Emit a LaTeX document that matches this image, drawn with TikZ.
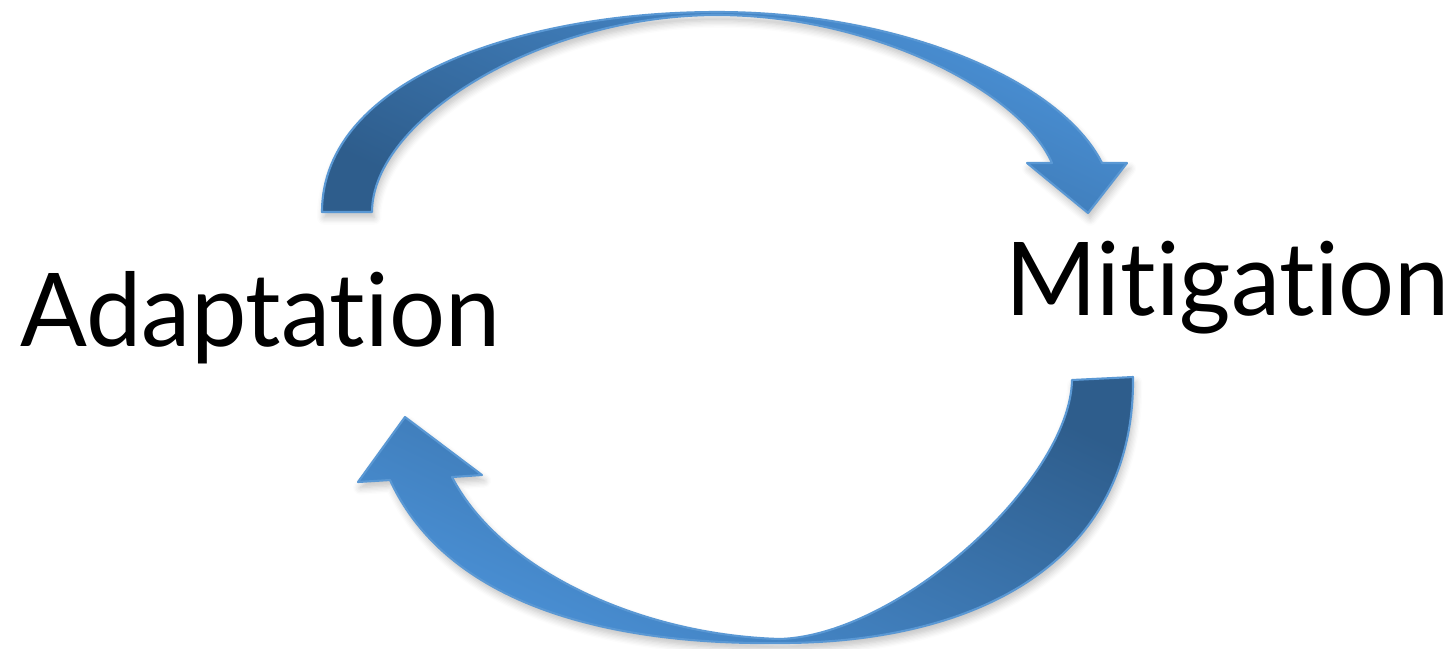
\documentclass[tikz,border=0pt]{standalone}
\usepackage{fontspec}
\setmainfont{Lato}[Ligatures={NoCommon}, FakeStretch=0.97]
\usepackage{tikz}
\usetikzlibrary{shadows.blur}
\definecolor{arrowdark}{HTML}{2E5D8C}
\definecolor{arrowlight}{HTML}{4B92D8}
\definecolor{arrowedge}{HTML}{5A98D4}

\begin{document}
\begin{tikzpicture}[
    x=0.1mm, y=-0.1mm,
    word/.style={font=\fontsize{29}{29}\selectfont, inner sep=0pt, anchor=base west},
    bigarrow/.style={draw=arrowedge, line width=0.6pt, line join=round,
        blur shadow={shadow xshift=0.6pt, shadow yshift=-1.6pt, shadow opacity=25, shadow blur steps=6}},
    toparrow/.style={bigarrow, top color=arrowlight, bottom color=arrowdark, shading angle=-25},
    botarrow/.style={bigarrow, top color=arrowlight, bottom color=arrowdark, shading angle=155}
]
\useasboundingbox (0,0) rectangle (1451,648);

\node (adapt) [word] at (20,346) {Adaptation};
\node (mitig) [word] at (1005,315) {Mitigation};

% Arrows
\shade[toparrow] (322,212) .. controls (322,80) and (520,12) .. (717,12)
    .. controls (900,12) and (1060,80) .. (1102,163)
    -- (1127,163) -- (1088,213) -- (1027,163) -- (1052,163)
    .. controls (1020,90) and (870,15) .. (717,15)
    .. controls (540,15) and (372,120) .. (372,212) -- cycle;
\shade[botarrow] (1072,380) -- (1133,377)
    .. controls (1135,560) and (980,643) .. (780,643)
    .. controls (620,645) and (450,610) .. (390,480)
    -- (358,482) -- (405,417) -- (482,475) -- (452,477)
    .. controls (500,570) and (640,635) .. (780,639)
    .. controls (900,635) and (1070,480) .. (1072,380) -- cycle;

\end{tikzpicture}
\end{document}
